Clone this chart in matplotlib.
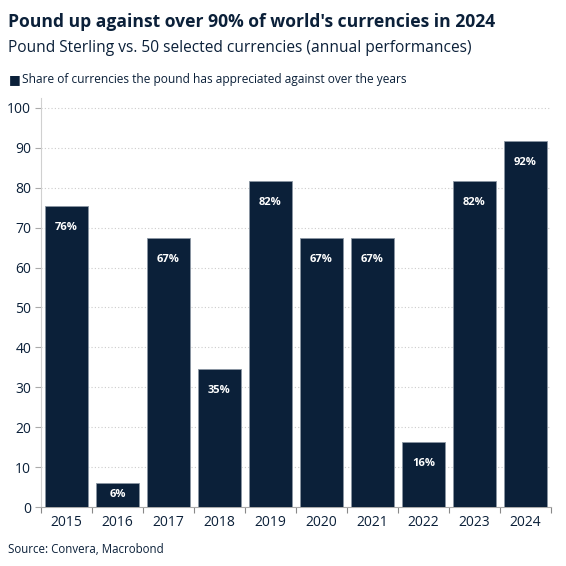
import numpy as np
from matplotlib import pyplot as plt

years = ['2015', '2016', '2017', '2018', '2019', '2020', '2021', '2022', '2023', '2024']
share = [75.5, 6.1, 67.3, 34.7, 81.6, 67.3, 67.3, 16.3, 81.6, 91.8]
labels = ['76%', '6%', '67%', '35%', '82%', '67%', '67%', '16%', '82%', '92%']

navy = '#0b2039'
plt.rcParams['font.family'] = ['Open Sans', 'DejaVu Sans']

fig = plt.figure(figsize=(5.66, 5.66), dpi=100)
ax = fig.add_axes([0.0724, 0.1042, 0.901, 0.7227])

x = np.arange(len(years))
ax.bar(x, share, width=0.84, color=navy, edgecolor='#8a96a3', linewidth=0.6, zorder=3)

for i, (v, lab) in enumerate(zip(share, labels)):
    if v < 10:
        ax.text(i, v / 2, lab, color='white', fontsize=8, fontweight='bold',
                ha='center', va='center', zorder=4)
    else:
        ax.annotate(lab, (i, v), xytext=(0, -15.5), textcoords='offset points',
                    color='white', fontsize=8, fontweight='bold',
                    ha='center', va='center', zorder=4)

ax.set_xlim(-0.5, 9.5)
ax.set_ylim(0, 102.5)
ax.set_yticks(range(0, 101, 10))
ax.set_xticks(x)
ax.set_xticklabels(years)
ax.set_xticks(np.arange(-0.5, 10, 1), minor=True)
ax.tick_params(axis='x', which='major', length=0, pad=6, labelsize=10, labelcolor=navy)
ax.tick_params(axis='x', which='minor', length=4, color='#888888', width=0.8)
ax.tick_params(axis='y', length=4, color='#aaaaaa', width=0.8, labelsize=10, labelcolor=navy, pad=3)

ax.grid(axis='y', linestyle=(0, (1, 2)), color='#cccccc', linewidth=0.8, zorder=0)
for s in ['top', 'right']:
    ax.spines[s].set_visible(False)
ax.spines['left'].set_color('#d0d0d0')
ax.spines['bottom'].set_color('#aaaaaa')

fig.text(0.014, 0.962, "Pound up against over 90% of world's currencies in 2024",
         fontsize=12.6, fontweight='bold', color=navy, va='center')
fig.text(0.014, 0.916, 'Pound Sterling vs. 50 selected currencies (annual performances)',
         fontsize=11.2, color=navy, va='center')
fig.text(0.016, 0.859, '\u25a0', fontsize=9, color=navy, va='center')
fig.text(0.039, 0.859, 'Share of currencies the pound has appreciated against over the years',
         fontsize=8.6, color=navy, va='center')
fig.text(0.014, 0.03, 'Source: Convera, Macrobond', fontsize=8.3, color=navy, va='center')

plt.savefig('out.png', dpi=100)
